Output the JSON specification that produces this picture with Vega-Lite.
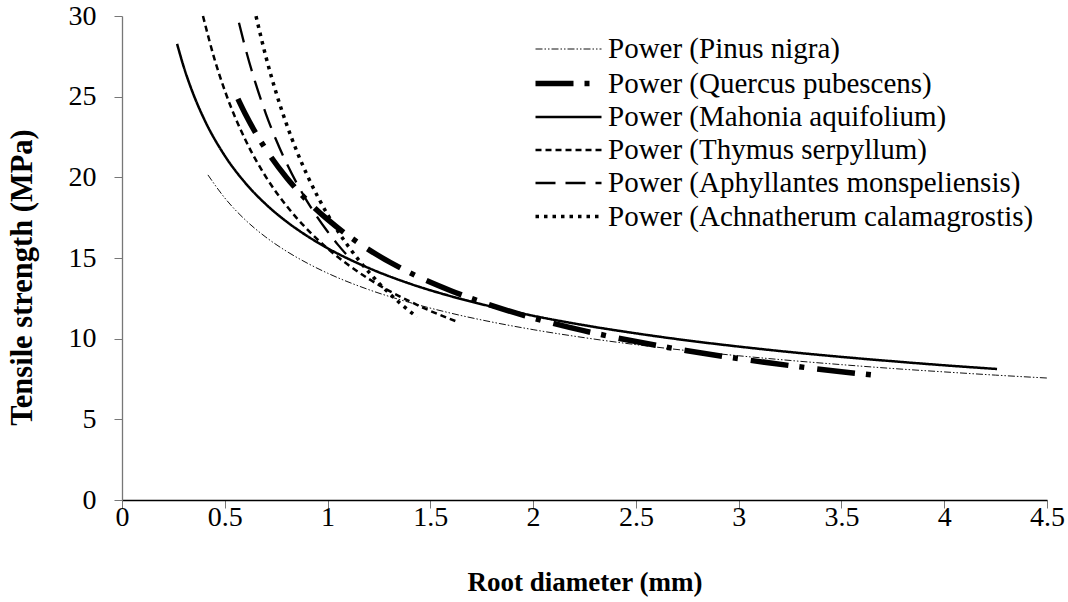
{
  "$schema": "https://vega.github.io/schema/vega-lite/v6.json",
  "width": 925,
  "height": 484,
  "autosize": "none",
  "padding": {"left": 122, "top": 16, "right": 21, "bottom": 102},
  "background": "white",
  "config": {
    "view": {"stroke": null},
    "font": "Liberation Serif",
    "legend": {
      "symbolType": "M-2,0H2",
      "symbolSize": 1089,
      "labelFont": "Liberation Serif",
      "labelFontSize": 29,
      "labelColor": "#000",
      "labelLimit": 0,
      "labelOffset": 20,
      "rowPadding": -0.6
    }
  },
  "data": {
    "values": [
      {"s": "Power (Pinus nigra)", "d": 0.418, "T": 20.15},
      {"s": "Power (Pinus nigra)", "d": 0.5, "T": 18.72},
      {"s": "Power (Pinus nigra)", "d": 0.6, "T": 17.36},
      {"s": "Power (Pinus nigra)", "d": 0.7, "T": 16.29},
      {"s": "Power (Pinus nigra)", "d": 0.8, "T": 15.42},
      {"s": "Power (Pinus nigra)", "d": 0.9, "T": 14.69},
      {"s": "Power (Pinus nigra)", "d": 1.0, "T": 14.06},
      {"s": "Power (Pinus nigra)", "d": 1.2, "T": 13.04},
      {"s": "Power (Pinus nigra)", "d": 1.4, "T": 12.24},
      {"s": "Power (Pinus nigra)", "d": 1.6, "T": 11.58},
      {"s": "Power (Pinus nigra)", "d": 1.8, "T": 11.03},
      {"s": "Power (Pinus nigra)", "d": 2.0, "T": 10.56},
      {"s": "Power (Pinus nigra)", "d": 2.25, "T": 10.06},
      {"s": "Power (Pinus nigra)", "d": 2.5, "T": 9.63},
      {"s": "Power (Pinus nigra)", "d": 2.75, "T": 9.26},
      {"s": "Power (Pinus nigra)", "d": 3.0, "T": 8.94},
      {"s": "Power (Pinus nigra)", "d": 3.25, "T": 8.65},
      {"s": "Power (Pinus nigra)", "d": 3.5, "T": 8.39},
      {"s": "Power (Pinus nigra)", "d": 3.75, "T": 8.15},
      {"s": "Power (Pinus nigra)", "d": 4.0, "T": 7.94},
      {"s": "Power (Pinus nigra)", "d": 4.25, "T": 7.74},
      {"s": "Power (Pinus nigra)", "d": 4.5, "T": 7.56},

      {"s": "Power (Quercus pubescens)", "d": 0.564, "T": 24.86},
      {"s": "Power (Quercus pubescens)", "d": 0.6, "T": 23.92},
      {"s": "Power (Quercus pubescens)", "d": 0.7, "T": 21.73},
      {"s": "Power (Quercus pubescens)", "d": 0.8, "T": 19.99},
      {"s": "Power (Quercus pubescens)", "d": 0.9, "T": 18.57},
      {"s": "Power (Quercus pubescens)", "d": 1.0, "T": 17.39},
      {"s": "Power (Quercus pubescens)", "d": 1.2, "T": 15.52},
      {"s": "Power (Quercus pubescens)", "d": 1.4, "T": 14.09},
      {"s": "Power (Quercus pubescens)", "d": 1.6, "T": 12.97},
      {"s": "Power (Quercus pubescens)", "d": 1.8, "T": 12.05},
      {"s": "Power (Quercus pubescens)", "d": 2.0, "T": 11.28},
      {"s": "Power (Quercus pubescens)", "d": 2.25, "T": 10.48},
      {"s": "Power (Quercus pubescens)", "d": 2.5, "T": 9.82},
      {"s": "Power (Quercus pubescens)", "d": 2.75, "T": 9.25},
      {"s": "Power (Quercus pubescens)", "d": 3.0, "T": 8.76},
      {"s": "Power (Quercus pubescens)", "d": 3.25, "T": 8.33},
      {"s": "Power (Quercus pubescens)", "d": 3.5, "T": 7.95},
      {"s": "Power (Quercus pubescens)", "d": 3.649, "T": 7.75},

      {"s": "Power (Mahonia aquifolium)", "d": 0.268, "T": 28.27},
      {"s": "Power (Mahonia aquifolium)", "d": 0.3, "T": 26.86},
      {"s": "Power (Mahonia aquifolium)", "d": 0.35, "T": 25.06},
      {"s": "Power (Mahonia aquifolium)", "d": 0.4, "T": 23.6},
      {"s": "Power (Mahonia aquifolium)", "d": 0.5, "T": 21.34},
      {"s": "Power (Mahonia aquifolium)", "d": 0.6, "T": 19.65},
      {"s": "Power (Mahonia aquifolium)", "d": 0.7, "T": 18.33},
      {"s": "Power (Mahonia aquifolium)", "d": 0.8, "T": 17.26},
      {"s": "Power (Mahonia aquifolium)", "d": 0.9, "T": 16.37},
      {"s": "Power (Mahonia aquifolium)", "d": 1.0, "T": 15.61},
      {"s": "Power (Mahonia aquifolium)", "d": 1.2, "T": 14.38},
      {"s": "Power (Mahonia aquifolium)", "d": 1.4, "T": 13.41},
      {"s": "Power (Mahonia aquifolium)", "d": 1.6, "T": 12.63},
      {"s": "Power (Mahonia aquifolium)", "d": 1.8, "T": 11.98},
      {"s": "Power (Mahonia aquifolium)", "d": 2.0, "T": 11.42},
      {"s": "Power (Mahonia aquifolium)", "d": 2.25, "T": 10.83},
      {"s": "Power (Mahonia aquifolium)", "d": 2.5, "T": 10.33},
      {"s": "Power (Mahonia aquifolium)", "d": 2.75, "T": 9.89},
      {"s": "Power (Mahonia aquifolium)", "d": 3.0, "T": 9.51},
      {"s": "Power (Mahonia aquifolium)", "d": 3.25, "T": 9.17},
      {"s": "Power (Mahonia aquifolium)", "d": 3.5, "T": 8.87},
      {"s": "Power (Mahonia aquifolium)", "d": 3.75, "T": 8.6},
      {"s": "Power (Mahonia aquifolium)", "d": 4.0, "T": 8.35},
      {"s": "Power (Mahonia aquifolium)", "d": 4.257, "T": 8.12},

      {"s": "Power (Thymus serpyllum)", "d": 0.394, "T": 30.0},
      {"s": "Power (Thymus serpyllum)", "d": 0.45, "T": 27.33},
      {"s": "Power (Thymus serpyllum)", "d": 0.5, "T": 25.38},
      {"s": "Power (Thymus serpyllum)", "d": 0.6, "T": 22.33},
      {"s": "Power (Thymus serpyllum)", "d": 0.7, "T": 20.03},
      {"s": "Power (Thymus serpyllum)", "d": 0.8, "T": 18.24},
      {"s": "Power (Thymus serpyllum)", "d": 0.9, "T": 16.79},
      {"s": "Power (Thymus serpyllum)", "d": 1.0, "T": 15.59},
      {"s": "Power (Thymus serpyllum)", "d": 1.1, "T": 14.58},
      {"s": "Power (Thymus serpyllum)", "d": 1.2, "T": 13.71},
      {"s": "Power (Thymus serpyllum)", "d": 1.3, "T": 12.96},
      {"s": "Power (Thymus serpyllum)", "d": 1.4, "T": 12.31},
      {"s": "Power (Thymus serpyllum)", "d": 1.5, "T": 11.72},
      {"s": "Power (Thymus serpyllum)", "d": 1.635, "T": 11.03},

      {"s": "Power (Aphyllantes monspeliensis)", "d": 0.569, "T": 29.58},
      {"s": "Power (Aphyllantes monspeliensis)", "d": 0.6, "T": 28.02},
      {"s": "Power (Aphyllantes monspeliensis)", "d": 0.65, "T": 25.82},
      {"s": "Power (Aphyllantes monspeliensis)", "d": 0.7, "T": 23.94},
      {"s": "Power (Aphyllantes monspeliensis)", "d": 0.75, "T": 22.31},
      {"s": "Power (Aphyllantes monspeliensis)", "d": 0.8, "T": 20.89},
      {"s": "Power (Aphyllantes monspeliensis)", "d": 0.85, "T": 19.64},
      {"s": "Power (Aphyllantes monspeliensis)", "d": 0.9, "T": 18.53},
      {"s": "Power (Aphyllantes monspeliensis)", "d": 0.95, "T": 17.53},
      {"s": "Power (Aphyllantes monspeliensis)", "d": 1.0, "T": 16.64},
      {"s": "Power (Aphyllantes monspeliensis)", "d": 1.05, "T": 15.83},
      {"s": "Power (Aphyllantes monspeliensis)", "d": 1.09, "T": 15.24},

      {"s": "Power (Achnatherum calamagrostis)", "d": 0.652, "T": 29.99},
      {"s": "Power (Achnatherum calamagrostis)", "d": 0.7, "T": 27.48},
      {"s": "Power (Achnatherum calamagrostis)", "d": 0.75, "T": 25.24},
      {"s": "Power (Achnatherum calamagrostis)", "d": 0.8, "T": 23.31},
      {"s": "Power (Achnatherum calamagrostis)", "d": 0.85, "T": 21.63},
      {"s": "Power (Achnatherum calamagrostis)", "d": 0.9, "T": 20.16},
      {"s": "Power (Achnatherum calamagrostis)", "d": 0.95, "T": 18.86},
      {"s": "Power (Achnatherum calamagrostis)", "d": 1.0, "T": 17.7},
      {"s": "Power (Achnatherum calamagrostis)", "d": 1.05, "T": 16.67},
      {"s": "Power (Achnatherum calamagrostis)", "d": 1.1, "T": 15.74},
      {"s": "Power (Achnatherum calamagrostis)", "d": 1.15, "T": 14.9},
      {"s": "Power (Achnatherum calamagrostis)", "d": 1.2, "T": 14.14},
      {"s": "Power (Achnatherum calamagrostis)", "d": 1.25, "T": 13.44},
      {"s": "Power (Achnatherum calamagrostis)", "d": 1.3, "T": 12.81},
      {"s": "Power (Achnatherum calamagrostis)", "d": 1.35, "T": 12.23},
      {"s": "Power (Achnatherum calamagrostis)", "d": 1.435, "T": 11.34}
    ]
  },
  "mark": {"type": "line", "strokeCap": "butt", "strokeJoin": "round", "interpolate": "monotone"},
  "encoding": {
    "x": {
      "field": "d", "type": "quantitative",
      "scale": {"domain": [0, 4.5], "nice": false, "zero": false},
      "axis": {
        "title": "Root diameter (mm)",
        "values": [0, 0.5, 1, 1.5, 2, 2.5, 3, 3.5, 4, 4.5],
        "format": "~g",
        "grid": false,
        "domainColor": "#000",
        "domainWidth": 1.3,
        "tickColor": "#777",
        "tickSize": 8,
        "labelFont": "Liberation Serif",
        "labelFontSize": 28,
        "labelColor": "#000",
        "labelPadding": -5,
        "labelFlush": false,
        "labelOverlap": false,
        "titleFont": "Liberation Serif",
        "titleFontSize": 27,
        "titleFontWeight": "bold",
        "titleColor": "#000",
        "titlePadding": 38
      }
    },
    "y": {
      "field": "T", "type": "quantitative",
      "scale": {"domain": [0, 30], "nice": false},
      "axis": {
        "title": "Tensile strength (MPa)",
        "values": [0, 5, 10, 15, 20, 25, 30],
        "grid": false,
        "domainColor": "#777",
        "domainWidth": 1.3,
        "tickColor": "#777",
        "tickSize": 8,
        "labelFont": "Liberation Serif",
        "labelFontSize": 28,
        "labelColor": "#000",
        "labelPadding": 18,
        "labelFlush": false,
        "labelOverlap": false,
        "titleFont": "Liberation Serif",
        "titleFontSize": 30.5,
        "titleFontWeight": "bold",
        "titleColor": "#000",
        "titlePadding": 31,
        "titleY": 261
      }
    },
    "color": {
      "field": "s", "type": "nominal",
      "scale": {
        "domain": ["Power (Pinus nigra)", "Power (Quercus pubescens)", "Power (Mahonia aquifolium)", "Power (Thymus serpyllum)", "Power (Aphyllantes monspeliensis)", "Power (Achnatherum calamagrostis)"],
        "range": ["#111111", "#000000", "#000000", "#000000", "#000000", "#000000"]
      },
      "legend": {"title": null, "orient": "none", "legendX": 427, "legendY": 16}
    },
    "strokeDash": {
      "field": "s", "type": "nominal",
      "scale": {
        "domain": ["Power (Pinus nigra)", "Power (Quercus pubescens)", "Power (Mahonia aquifolium)", "Power (Thymus serpyllum)", "Power (Aphyllantes monspeliensis)", "Power (Achnatherum calamagrostis)"],
        "range": [[7, 2, 1.5, 2, 1.5, 2], [38, 11, 5, 13], [1, 0], [6, 4], [20, 10], [3.5, 5]]
      },
      "legend": {"title": null, "orient": "none", "legendX": 427, "legendY": 16}
    },
    "strokeWidth": {
      "field": "s", "type": "nominal",
      "scale": {
        "type": "ordinal",
        "domain": ["Power (Pinus nigra)", "Power (Quercus pubescens)", "Power (Mahonia aquifolium)", "Power (Thymus serpyllum)", "Power (Aphyllantes monspeliensis)", "Power (Achnatherum calamagrostis)"],
        "range": [1, 5.5, 2.5, 2.5, 2.3, 3.5]
      },
      "legend": {"title": null, "orient": "none", "legendX": 427, "legendY": 16}
    }
  }
}
